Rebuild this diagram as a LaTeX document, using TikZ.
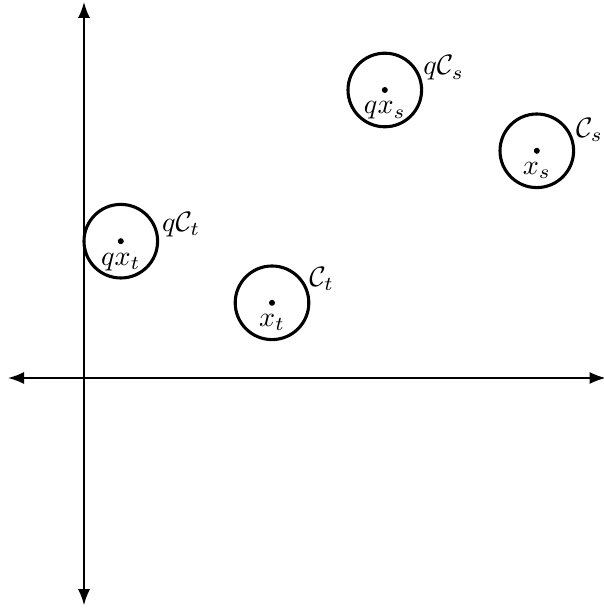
\documentclass[tikz,border=0pt]{standalone}
\usepackage{amsmath,amssymb}
\usepackage{tikz}
\usetikzlibrary{arrows.meta, positioning}

\begin{document}
\begin{tikzpicture}[
  axis/.style={{Latex[length=2mm,width=1.5mm]}-{Latex[length=2mm,width=1.5mm]}, line width=0.6pt},
  ball/.style={circle, draw, line width=1.1pt, minimum size=0.92cm, inner sep=0pt},
  balllabel/.style={anchor=west, inner sep=0pt, label distance=0.07cm},
  pt/.style={circle, fill, inner sep=0pt, minimum size=0.75mm},
  ptlabel/.style={inner sep=1pt}
]
  \useasboundingbox (-1.05,-2.875) rectangle (6.4875,4.725);
  % axes
  \coordinate (W) at (-0.95,0);
  \coordinate (E) at (6.52,0);
  \coordinate (S) at (0,-2.84);
  \coordinate (N) at (0,4.7);
  \draw[axis] (W) -- (E);
  \draw[axis] (S) -- (N);
  % balls
  \node[ball, label={[balllabel]22:$q\mathcal{C}_t$}] (qCt) at (0.46,1.71) {};
  \node[ball, label={[balllabel]33:$\mathcal{C}_t$}] (Ct) at (2.35,0.94) {};
  \node[ball, label={[balllabel]30:$q\mathcal{C}_s$}] (qCs) at (3.76,3.6) {};
  \node[ball, label={[balllabel]28:$\mathcal{C}_s$}] (Cs) at (5.66,2.84) {};
  % centres
  \node[pt] (qxt) at (qCt.center) {};
  \node[pt] (xt) at (Ct.center) {};
  \node[pt] (qxs) at (qCs.center) {};
  \node[pt] (xs) at (Cs.center) {};
  \node[ptlabel, below=0.06cm of qxt] {$qx_t$};
  \node[ptlabel, below=0.06cm of xt] {$x_t$};
  \node[ptlabel, below=0.06cm of qxs] {$qx_s$};
  \node[ptlabel, below=0.06cm of xs] {$x_s$};
\end{tikzpicture}
\end{document}
